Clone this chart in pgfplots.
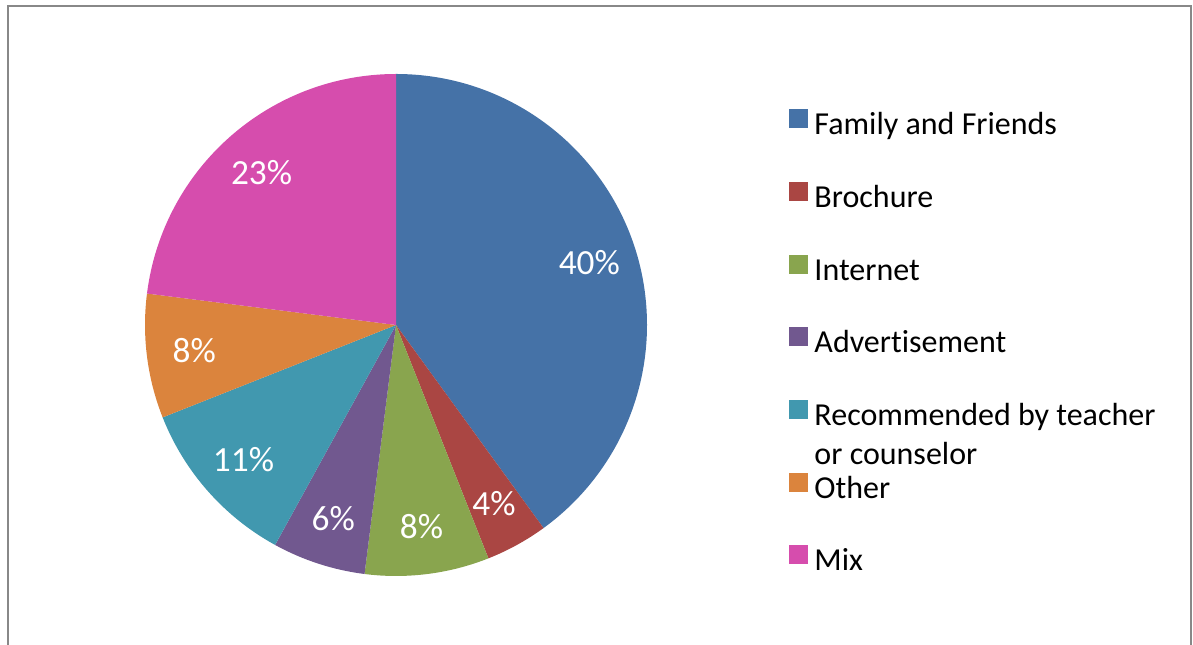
\documentclass[border=0pt]{standalone}
\usepackage{pgfplots}
\usepackage{pgfplotstable}
\pgfplotsset{compat=1.18}
\usepackage{fontspec}
\setmainfont{Carlito}[Ligatures=NoCommon]

\definecolor{cFam}{HTML}{4572A7}
\definecolor{cBro}{HTML}{AA4643}
\definecolor{cInt}{HTML}{89A54E}
\definecolor{cAdv}{HTML}{71588F}
\definecolor{cRec}{HTML}{4198AF}
\definecolor{cOth}{HTML}{DB843D}
\definecolor{cMix}{HTML}{D64DAD}
\definecolor{frame}{HTML}{888888}

% share of each source, in percent
\pgfplotstableread[col sep=comma]{
name,value,color
Family and Friends,40,cFam
Brochure,4,cBro
Internet,8,cInt
Advertisement,6,cAdv
Recommended by teacher or counselor,11,cRec
Other,8,cOth
Mix,23,cMix
}\piedata
\pgfplotstablecreatecol[create col/expr accum={\pgfmathaccuma+\thisrow{value}}{0}]{cum}\piedata

\begin{document}
\begin{tikzpicture}[lbl/.style={white, font=\fontsize{26.5}{30}\selectfont, anchor=center}]
\useasboundingbox (0,0) rectangle (894.75pt,483.75pt);
\begin{axis}[
  at={(297pt,240pt)}, anchor=center,
  scale only axis, width=376.5pt, height=376.5pt,
  xmin=-1, xmax=1, ymin=-1, ymax=1,
  hide axis, clip=false,
  legend image code/.code={\fill[#1] (0pt,5.5pt) rectangle (13.5pt,19pt);},
  legend style={draw=none, fill=none, inner sep=0pt,
    at={(1.2829,0.4655)}, anchor=west,
    font=\fontsize{24}{29.25}\selectfont,
    row sep=26.5pt,
    cells={anchor=base west},
    nodes={text height=22pt, text depth=6pt, inner xsep=5pt, inner ysep=0pt}},
]
\pgfplotsforeachungrouped \i in {0,...,6}{%
  \pgfplotstablegetelem{\i}{value}\of\piedata \let\pv\pgfplotsretval
  \pgfplotstablegetelem{\i}{cum}\of\piedata \let\pc\pgfplotsretval
  \pgfplotstablegetelem{\i}{color}\of\piedata \let\pcol\pgfplotsretval
  \pgfmathsetmacro\sa{90-3.6*(\pc-\pv)}%
  \pgfmathsetmacro\ea{90-3.6*\pc}%
  \pgfmathsetmacro\ma{(\sa+\ea)/2}%
  \edef\temp{\noexpand\fill[\pcol] (axis cs:0,0) -- ({cos(\sa)},{sin(\sa)})
      arc[start angle=\sa, end angle=\ea, radius=1] -- cycle;
    \noexpand\node[lbl] at ({0.81*cos(\ma)},{0.81*sin(\ma)}) {\pv\noexpand\%};}%
  \temp
}
\addlegendimage{cFam}\addlegendentry{Family and Friends}
\addlegendimage{cBro}\addlegendentry{Brochure}
\addlegendimage{cInt}\addlegendentry{Internet}
\addlegendimage{cAdv}\addlegendentry{Advertisement}
\addlegendimage{cRec}\addlegendentry{\begin{tabular}[t]{@{}l@{}}Recommended by teacher\\or counselor\end{tabular}}
\addlegendimage{cOth}\addlegendentry{Other}
\addlegendimage{cMix}\addlegendentry{Mix}
\end{axis}
\draw[frame, line width=1.5pt] (6pt,-10pt) -- (6pt,479.6pt) -- (893pt,479.6pt) -- (893pt,-10pt);
\end{tikzpicture}
\end{document}
